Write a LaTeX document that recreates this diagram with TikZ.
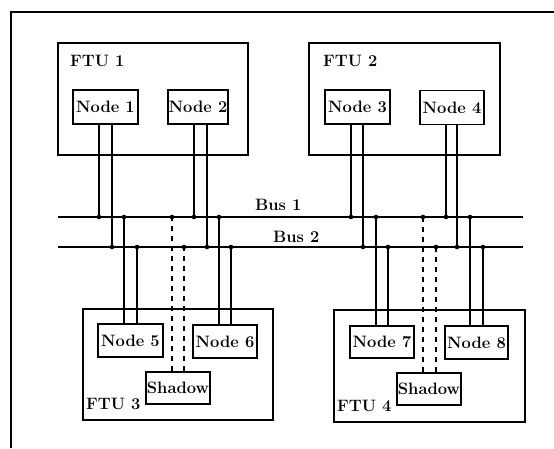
\documentclass[tikz,border=0pt]{standalone}
\usetikzlibrary{calc}
\newcommand\lbl{\fontsize{16.5}{19}\selectfont\bfseries}
\tikzset{
  unitbox/.style={draw, line width=1.2pt, inner sep=0},
  nodebox/.style={draw, line width=1.2pt, inner sep=0, minimum height=34pt, font=\lbl},
  wire/.style={line width=1.2pt},
  shadowwire/.style={line width=1.2pt, dash pattern=on 5pt off 5pt},
  bus/.style={line width=2pt},
  jn/.style={circle, fill, inner sep=0, minimum size=4.6pt},
  lbl/.style={font=\lbl, inner sep=0, anchor=base west}
}
\begin{document}
\begin{tikzpicture}[x=1pt, y=-1pt]
\useasboundingbox (0,0) rectangle (554,448);

% outer frame (top and left edges)
\coordinate (fbl) at (11,448);
\coordinate (ftr) at (554,12);
\draw[line width=1.3pt] (fbl) |- (ftr);

% fault-tolerant units
\node[unitbox, minimum width=190pt, minimum height=112pt] (f1) at (153,99) {};
\node[unitbox, minimum width=191pt, minimum height=112pt] (f2) at (404.5,99) {};
\node[unitbox, minimum width=190pt, minimum height=111pt] (f3) at (178,364.5) {};
\node[unitbox, minimum width=191pt, minimum height=112pt] (f4) at (429.5,366) {};
\node[lbl] (f1t) at (70,66) {FTU 1};
\node[lbl] (f2t) at (323,66) {FTU 2};
\node[lbl] (f3t) at (86,409) {FTU 3};
\node[lbl] (f4t) at (337,411) {FTU 4};

% processing nodes
\node[nodebox, minimum width=65pt] (n1) at (105.5,107) {Node 1};
\node[nodebox, minimum width=60pt] (n2) at (198,107) {Node 2};
\node[nodebox, minimum width=65pt] (n3) at (357.5,107) {Node 3};
\node[nodebox, minimum width=64pt] (n4) at (452,107.5) {Node 4};
\node[nodebox, minimum width=65pt, minimum height=33pt] (n5) at (130.5,340.5) {Node 5};
\node[nodebox, minimum width=64pt, minimum height=33pt] (n6) at (225,341.5) {Node 6};
\node[nodebox, minimum width=64pt, minimum height=32pt] (n7) at (382,342) {Node 7};
\node[nodebox, minimum width=63pt, minimum height=33pt] (n8) at (476.5,342.5) {Node 8};
\node[nodebox, minimum width=64pt, minimum height=32pt] (s3) at (178,388) {Shadow};
\node[nodebox, minimum width=64pt, minimum height=32pt] (s4) at (429,389) {Shadow};

% buses
\coordinate (b1w) at (58,217);
\coordinate (b1e) at (523,217);
\coordinate (b2w) at (58,247);
\coordinate (b2e) at (523,247);
\draw[bus] (b1w) -- (b1e);
\draw[bus] (b2w) -- (b2e);
\node[lbl] (b1t) at (255,210) {Bus 1};
\node[lbl] (b2t) at (273,242) {Bus 2};

% upper nodes: left wire to bus 1, right wire to bus 2
\draw[wire] ([xshift=-6.5pt]n1.south) -- ([xshift=-6.5pt]n1.south |- b1w) node[jn]{};
\draw[wire] ([xshift=6.5pt]n1.south) -- ([xshift=6.5pt]n1.south |- b2w) node[jn]{};
\draw[wire] ([xshift=-4pt]n2.south) -- ([xshift=-4pt]n2.south |- b1w) node[jn]{};
\draw[wire] ([xshift=9pt]n2.south) -- ([xshift=9pt]n2.south |- b2w) node[jn]{};
\draw[wire] ([xshift=-6.5pt]n3.south) -- ([xshift=-6.5pt]n3.south |- b1w) node[jn]{};
\draw[wire] ([xshift=5.5pt]n3.south) -- ([xshift=5.5pt]n3.south |- b2w) node[jn]{};
\draw[wire] ([xshift=-6pt]n4.south) -- ([xshift=-6pt]n4.south |- b1w) node[jn]{};
\draw[wire] ([xshift=5pt]n4.south) -- ([xshift=5pt]n4.south |- b2w) node[jn]{};

% lower nodes: left wire to bus 1, right wire to bus 2
\draw[wire] ([xshift=-6.5pt]n5.north) -- ([xshift=-6.5pt]n5.north |- b1w) node[jn]{};
\draw[wire] ([xshift=6.5pt]n5.north) -- ([xshift=6.5pt]n5.north |- b2w) node[jn]{};
\draw[wire] ([xshift=-6pt]n6.north) -- ([xshift=-6pt]n6.north |- b1w) node[jn]{};
\draw[wire] ([xshift=6pt]n6.north) -- ([xshift=6pt]n6.north |- b2w) node[jn]{};
\draw[wire] ([xshift=-6pt]n7.north) -- ([xshift=-6pt]n7.north |- b1w) node[jn]{};
\draw[wire] ([xshift=6pt]n7.north) -- ([xshift=6pt]n7.north |- b2w) node[jn]{};
\draw[wire] ([xshift=-6.5pt]n8.north) -- ([xshift=-6.5pt]n8.north |- b1w) node[jn]{};
\draw[wire] ([xshift=6.5pt]n8.north) -- ([xshift=6.5pt]n8.north |- b2w) node[jn]{};

% shadow nodes: dashed links to both buses
\draw[shadowwire] ([xshift=-6pt]s3.north) -- ([xshift=-6pt]s3.north |- b1w) node[jn]{};
\draw[shadowwire] ([xshift=6pt]s3.north) -- ([xshift=6pt]s3.north |- b2w) node[jn]{};
\draw[shadowwire] ([xshift=-6pt]s4.north) -- ([xshift=-6pt]s4.north |- b1w) node[jn]{};
\draw[shadowwire] ([xshift=7pt]s4.north) -- ([xshift=7pt]s4.north |- b2w) node[jn]{};
\end{tikzpicture}
\end{document}
